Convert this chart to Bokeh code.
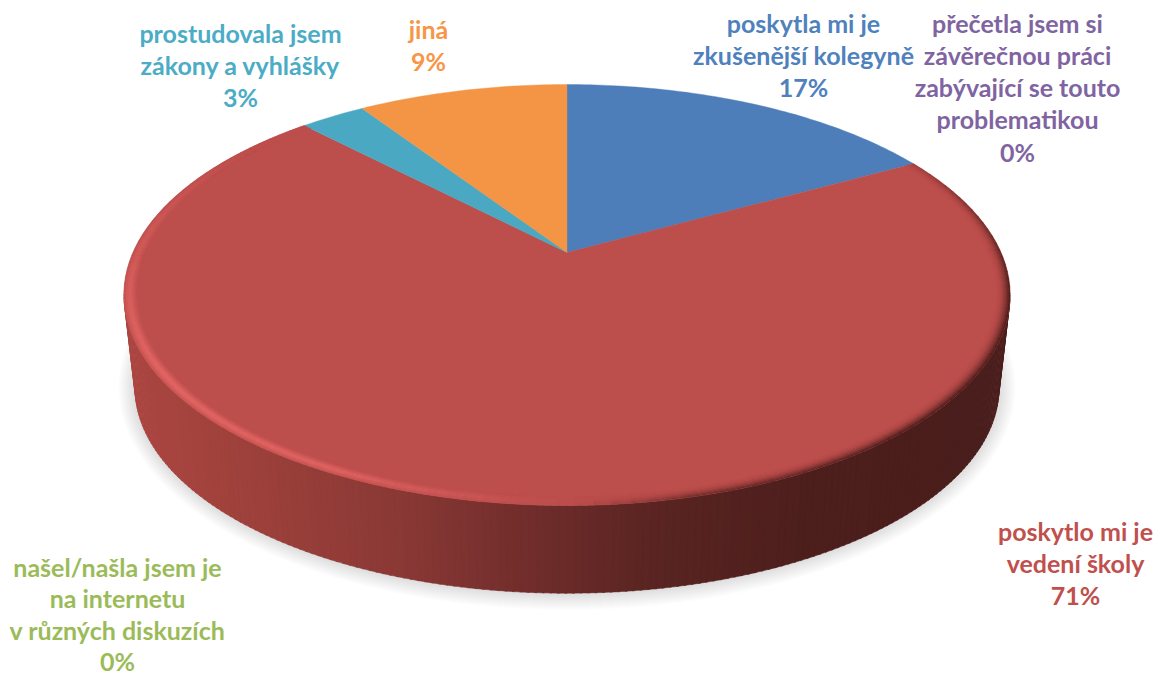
import numpy as np
from bokeh.plotting import figure
from bokeh.models import Range1d, ColumnDataSource
from bokeh.core.properties import value
from bokeh.embed import file_html
from bokeh.resources import INLINE

# ---- chart data (clockwise from 12 o'clock)
categories = [
    "poskytla mi je\nzkušenější kolegyně",
    "poskytlo mi je\nvedení školy",
    "přečetla jsem si\nzávěrečnou práci\nzabývající se touto\nproblematikou",
    "našel/našla jsem je\nna internetu\nv různých diskuzích",
    "prostudovala jsem\nzákony a vyhlášky",
    "jiná",
]
shares = [17.0, 70.8, 0.0, 0.0, 2.9, 9.3]
face_colors = ["#4D7EB9", "#BC4E4C", "#8064A2", "#9BBB59", "#4AA8C2", "#F39545"]
label_colors = ["#4F81BD", "#C0504D", "#8064A2", "#9BBB59", "#4BACC6", "#F79646"]
label_x = [803, 1075, 1017, 117, 240, 428]
label_top = [22, 530, 22, 566, 32, 28]
LINE_PITCH = 32.3
FONT = "Lato"
FONT_SIZE = "25px"

# ---- pie projection (pixel space of the page)
CX, APEX_Y, K, C, A = 566.5, 252.0, 434.0, 0.2019, -151.0


def project(theta_deg, s=1.0):
    t = np.radians(theta_deg)
    u, v = s * np.sin(t), s * np.cos(t)
    d = 1 + C * v
    return CX + K * u / d, (A * v + APEX_Y) / d


W, H = 1155, 675
p = figure(width=W, height=H, output_backend="svg", toolbar_location=None,
           x_range=Range1d(0, W), y_range=Range1d(H, 0),
           min_border=0, outline_line_color=None)
p.axis.visible = False
p.grid.visible = False
p.background_fill_color = "white"
p.border_fill_color = "white"

# ---- soft shadow under the disc
BOT_CY, BOT_RX, BOT_RY = 387.0, 432.0, 205.7
phi = np.radians(np.arange(0, 361, 3))
for d in range(17, 0, -1):
    p.patch(CX + (BOT_RX + d) * np.sin(phi), BOT_CY - (BOT_RY + d) * np.cos(phi),
            fill_color="#000000", fill_alpha=0.009, line_color=None)

# ---- side wall
TOP_CY, TOP_RX, TOP_RY = 294.5, 443.0, 210.5
stop_x = [130, 250, 400, 500, 650, 800, 1010]
stop_r = [172, 158, 138, 118, 90, 77, 74]
stop_g = [70, 65, 57, 48, 37, 31, 30]
stop_b = [65, 60, 53, 46, 34, 29, 28]
wx, wy, wc = [], [], []
step = 1.0
for a in np.arange(90, 270, step):
    a0, a1 = np.radians(a), np.radians(a + step + 0.3)
    xs = [CX + TOP_RX * np.sin(a0), CX + TOP_RX * np.sin(a1),
          CX + BOT_RX * np.sin(a1), CX + BOT_RX * np.sin(a0)]
    ys = [TOP_CY - TOP_RY * np.cos(a0), TOP_CY - TOP_RY * np.cos(a1),
          BOT_CY - BOT_RY * np.cos(a1), BOT_CY - BOT_RY * np.cos(a0)]
    m = sum(xs) / 4
    col = (int(np.interp(m, stop_x, stop_r)), int(np.interp(m, stop_x, stop_g)),
           int(np.interp(m, stop_x, stop_b)))
    wx.append(xs); wy.append(ys); wc.append("#%02x%02x%02x" % col)
p.patches(wx, wy, fill_color=wc, line_color=wc, line_width=0.5)

# ---- top face slices, sized from the values
edges = np.cumsum([0.0] + shares) / sum(shares) * 360.0
for i, sh in enumerate(shares):
    if sh <= 0:
        continue
    th = np.linspace(edges[i], edges[i + 1], max(3, int(sh * 4)))
    x, y = project(th)
    p.patch(np.r_[CX, x], np.r_[APEX_Y, y], fill_color=face_colors[i],
            line_color=face_colors[i], line_width=0.4)

# ---- rim bevel on the large slice
BIG = int(np.argmax(shares))
base = np.array([188, 78, 76.0])
light = np.array([236, 108, 106.0])
dark = np.array([70, 27, 25.0])
S_IN, S_N = 0.970, 9
s_edges = np.linspace(S_IN, 1.0, S_N + 1)
bx, by, bc = [], [], []
th_grid = np.arange(edges[BIG], edges[BIG + 1], 2.0)
for a in th_grid:
    b = min(a + 2.2, edges[BIG + 1])
    level = np.interp(a, [61, 75, 100, 140, 165, 178, 205, 235, 275, 300, 320],
                      [-0.25, -0.55, -1, -1, -0.7, 0.0, 0.8, 0.9, 0.45, 0.12, 0.02])
    for j in range(S_N):
        s0, s1 = s_edges[j], s_edges[j + 1]
        t = (j + 0.5) / S_N
        if level >= 0:
            w = level * np.interp(t, [0, 0.55, 0.8, 1], [0, 1, 0.7, 0.25])
            col = base + (light - base) * w
        else:
            w = -level * t ** 2.0
            col = base + (dark - base) * w
        x0, y0 = project(a, s0); x1, y1 = project(b, s0)
        x2, y2 = project(b, s1); x3, y3 = project(a, s1)
        h = "#%02x%02x%02x" % tuple(int(c) for c in col)
        bx.append([x0, x1, x2, x3]); by.append([y0, y1, y2, y3]); bc.append(h)
p.patches(bx, by, fill_color=bc, line_color=bc, line_width=0.3)

# ---- labels
for i, name in enumerate(categories):
    lines = name.split("\n") + ["%d%%" % round(shares[i])]
    pitch = 31.6 if lines[-2].startswith("v r") else LINE_PITCH
    src = ColumnDataSource(dict(
        x=[label_x[i]] * len(lines),
        y=[label_top[i] + k * pitch for k in range(len(lines))],
        t=lines))
    p.text("x", "y", text="t", source=src, text_align="center", text_baseline="middle",
           text_color=label_colors[i], text_font=value(FONT), text_font_style="bold",
           text_font_size=value(FONT_SIZE))

open("out.html", "w").write(file_html(p, INLINE))
